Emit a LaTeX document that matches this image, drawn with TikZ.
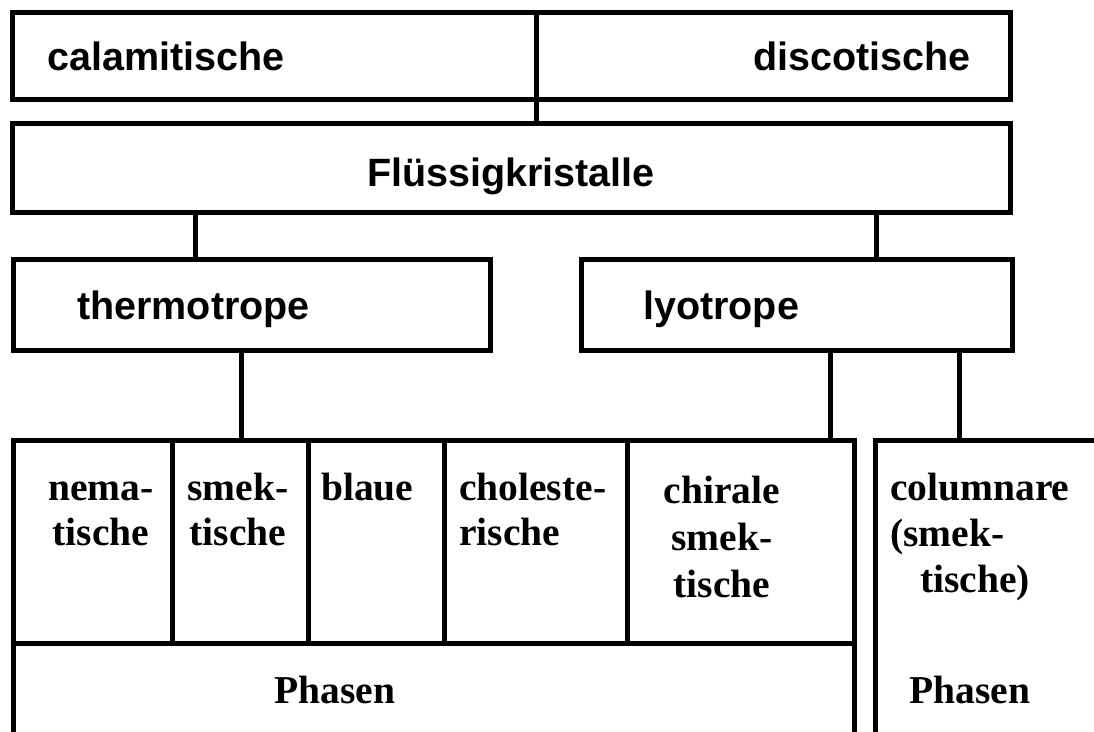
\documentclass[tikz,border=0pt]{standalone}
\usepackage{fontspec}
\setmainfont{Liberation Serif}
\setsansfont{Liberation Sans}

\begin{document}
\begin{tikzpicture}[x=1pt, y=-1pt,
    box/.style={draw, line width=5pt, inner sep=0pt},
    leitung/.style={line width=5pt},
    kopf/.style={font=\sffamily\bfseries\fontsize{39.5}{45}\selectfont, inner sep=0pt, anchor=base west},
    phase/.style={font=\bfseries\fontsize{39.5}{45}\selectfont, inner sep=0pt, anchor=base}]
  \useasboundingbox (0,0) rectangle (1094,731);
  \clip (0,0) rectangle (1094,731);
  % Kaesten
  \node[box, minimum width=998pt, minimum height=87pt] (klasse) at (511,55.5) {};
  \node[box, minimum width=998pt, minimum height=88.5pt] (fk) at (511,167.75) {};
  \node[box, minimum width=477pt, minimum height=91pt] (thermo) at (251.5,304.5) {};
  \node[box, minimum width=431pt, minimum height=91pt] (lyo) at (796.5,304.5) {};
  \node[box, minimum width=841pt, minimum height=360pt] (links) at (433.5,620.5) {};
  \node[box, minimum width=325pt, minimum height=360pt] (rechts) at (1038,620.5) {};
  % Verbindungen
  \coordinate (s1) at (536,0);
  \coordinate (s2) at (195,0);
  \coordinate (s3) at (876,0);
  \coordinate (s4) at (241,0);
  \coordinate (s5) at (830,0);
  \coordinate (s6) at (959.5,0);
  \coordinate (trenn) at (0,643);
  \draw[leitung] (klasse.north -| s1) -- (fk.north -| s1);
  \draw[leitung] (fk.south -| s2) -- (thermo.north -| s2);
  \draw[leitung] (fk.south -| s3) -- (lyo.north -| s3);
  \draw[leitung] (thermo.south -| s4) -- (links.north -| s4);
  \draw[leitung] (lyo.south -| s5) -- (links.north -| s5);
  \draw[leitung] (lyo.south -| s6) -- (rechts.north -| s6);
  \draw[leitung] (links.west |- trenn) -- (links.east |- trenn);
  \foreach \x in {172,308,444,627}
    \draw[leitung] (\x,440.5) -- (\x,643);
  % Beschriftung
  \node[kopf] (cal) at (47,70) {calamitische};
  \node[kopf, anchor=base east] (dis) at (971,70) {discotische};
  \node[kopf, anchor=base] (fktext) at (511,186) {Flüssigkristalle};
  \node[kopf] (thtext) at (77,319) {thermotrope};
  \node[kopf] (lytext) at (643,319) {lyotrope};
  % mehrzeilig: base = letzte Zeile
  \node[phase, align=center] (nem) at (101,545) {nema-\\tische};
  \node[phase, align=center] (smek) at (238,545) {smek-\\tische};
  \node[phase, anchor=base west] (blau) at (321,500) {blaue};
  \node[phase, align=left, anchor=base west] (chol) at (459,545) {choleste-\\rische};
  \node[phase, align=center] (chir) at (722,597) {chirale\\[2pt]smek-\\[2pt]tische};
  \node[phase, align=left, anchor=base west] (col) at (890,592) {columnare\\[1pt](smek-\\[1pt]\hspace*{30pt}tische)};
  \node[phase] (ph1) at (335,703) {Phasen};
  \node[phase] (ph2) at (970,703) {Phasen};
\end{tikzpicture}
\end{document}
